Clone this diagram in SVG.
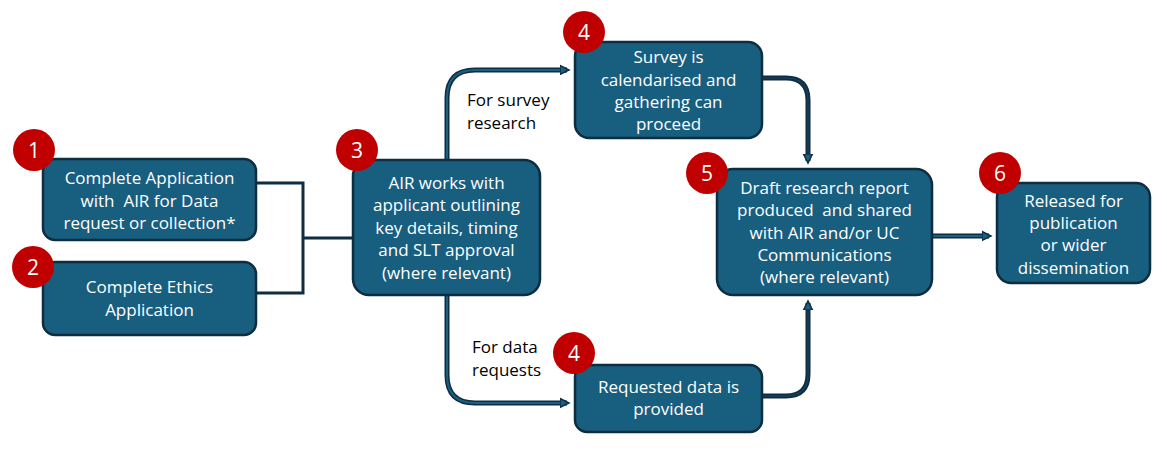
<svg xmlns="http://www.w3.org/2000/svg" width="1167" height="453" viewBox="0 0 1167 453">
<defs>
<style>
.box{fill:#175e7f;stroke:#0e2d40;stroke-width:2.5}
.badge{fill:#c00000}
.bt{fill:#fff;font-family:"Open Sans","Noto Sans",sans-serif;font-size:21px;text-anchor:middle}
.t{fill:#fff;font-family:"Open Sans","Noto Sans",sans-serif;font-size:17px;text-anchor:middle;white-space:pre}
.lab{fill:#000;font-family:"Open Sans","Noto Sans",sans-serif;font-size:17px}
.co{fill:none;stroke:#0e2d40;stroke-width:5}
.ci{fill:none;stroke:#1d5f80;stroke-width:2}
.cd{fill:none;stroke:#163f58;stroke-width:1.5}
.plain{fill:none;stroke:#0e2d40;stroke-width:3}
</style>
<marker id="ah" markerWidth="12" markerHeight="12" refX="7" refY="6" orient="auto" markerUnits="userSpaceOnUse">
<path d="M0,1.5 L9,6 L0,10.5 Z" fill="#1d5f80" stroke="#0e2d40" stroke-width="1.5"/>
</marker>
</defs>
<g id="connectors">
<path class="plain" d="M256,183 H303 V293 H256"/>
<path class="plain" d="M303,238 H353"/>
<path class="co" d="M447,160 V98 Q447,70 475,70 H567"/>
<path class="ci" d="M447,160 V98 Q447,70 475,70 H567" marker-end="url(#ah)"/>
<path class="co" d="M447,295 V375 Q447,403 475,403 H567"/>
<path class="ci" d="M447,295 V375 Q447,403 475,403 H567" marker-end="url(#ah)"/>
<path class="co" d="M762,78 H786 Q808,78 808,100 V161"/>
<path class="cd" d="M762,78 H786 Q808,78 808,100 V161" marker-end="url(#ah)"/>
<path class="co" d="M762,396 H786 Q808,396 808,374 V303"/>
<path class="cd" d="M762,396 H786 Q808,396 808,374 V303" marker-end="url(#ah)"/>
<path class="co" d="M932,236 H989"/>
<path class="ci" d="M932,236 H989" marker-end="url(#ah)"/>
</g>
<g id="labels">
<text class="lab" x="467" y="106">For survey</text>
<text class="lab" x="467" y="129">research</text>
<text class="lab" x="472" y="353">For data</text>
<text class="lab" x="472" y="376">requests</text>
</g>
<g id="node1">
<rect class="box" x="43" y="159" width="213" height="81" rx="12"/>
<text class="t" x="149.5" y="184">Complete Application</text>
<text class="t" x="149.5" y="207">with  AIR for Data</text>
<text class="t" x="149.5" y="229">request or collection*</text>
<circle class="badge" cx="34" cy="150" r="21"/>
<text class="bt" x="34" y="157.5">1</text>
</g>
<g id="node2">
<rect class="box" x="43" y="262" width="213" height="73" rx="12"/>
<text class="t" x="149.5" y="293">Complete Ethics</text>
<text class="t" x="149.5" y="316">Application</text>
<circle class="badge" cx="33" cy="267" r="21"/>
<text class="bt" x="33" y="274.5">2</text>
</g>
<g id="node3">
<rect class="box" x="353" y="160" width="187" height="135" rx="16"/>
<text class="t" x="446.5" y="189">AIR works with</text>
<text class="t" x="446.5" y="211">applicant outlining</text>
<text class="t" x="446.5" y="234">key details, timing</text>
<text class="t" x="446.5" y="256">and SLT approval</text>
<text class="t" x="446.5" y="279">(where relevant)</text>
<circle class="badge" cx="357" cy="150" r="21"/>
<text class="bt" x="357" y="157.5">3</text>
</g>
<g id="node4a">
<rect class="box" x="575" y="42" width="187" height="96" rx="14"/>
<text class="t" x="668.5" y="63">Survey is</text>
<text class="t" x="668.5" y="86">calendarised and</text>
<text class="t" x="668.5" y="108">gathering can</text>
<text class="t" x="668.5" y="130">proceed</text>
<circle class="badge" cx="584" cy="32" r="21"/>
<text class="bt" x="584" y="39.5">4</text>
</g>
<g id="node4b">
<rect class="box" x="575" y="365" width="187" height="67" rx="12"/>
<text class="t" x="668.5" y="393">Requested data is</text>
<text class="t" x="668.5" y="415">provided</text>
<circle class="badge" cx="574" cy="353" r="21"/>
<text class="bt" x="574" y="360.5">4</text>
</g>
<g id="node5">
<rect class="box" x="717" y="169" width="215" height="126" rx="16"/>
<text class="t" x="824.5" y="194">Draft research report</text>
<text class="t" x="824.5" y="216">produced  and shared</text>
<text class="t" x="824.5" y="239">with AIR and/or UC</text>
<text class="t" x="824.5" y="261">Communications</text>
<text class="t" x="824.5" y="283">(where relevant)</text>
<circle class="badge" cx="707" cy="173" r="21"/>
<text class="bt" x="707" y="180.5">5</text>
</g>
<g id="node6">
<rect class="box" x="997" y="183" width="153" height="100" rx="14"/>
<text class="t" x="1073.5" y="207">Released for</text>
<text class="t" x="1073.5" y="229">publication</text>
<text class="t" x="1073.5" y="251">or wider</text>
<text class="t" x="1073.5" y="274">dissemination</text>
<circle class="badge" cx="1000" cy="173" r="21"/>
<text class="bt" x="1000" y="180.5">6</text>
</g>
</svg>
